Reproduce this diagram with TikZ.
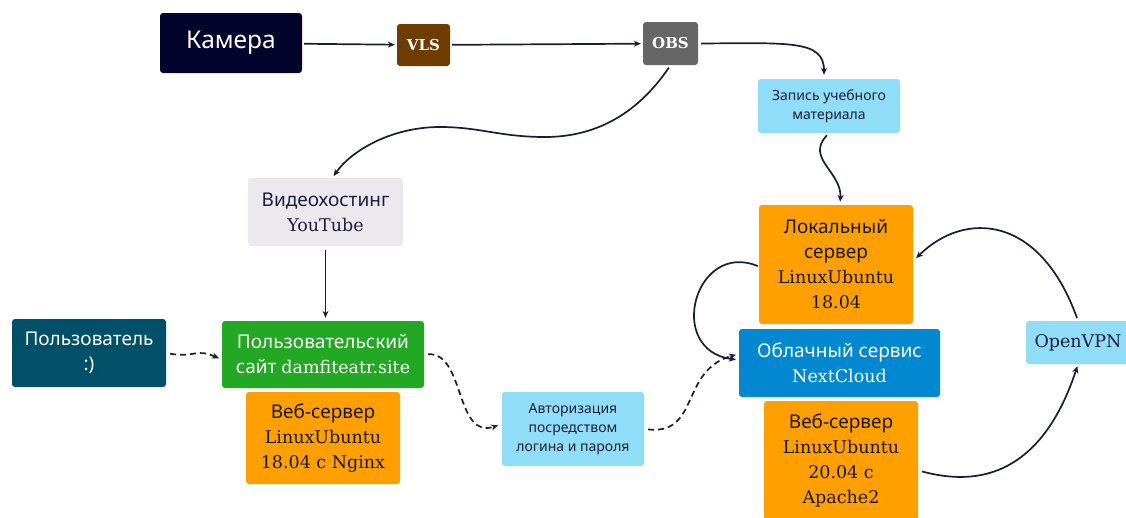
\documentclass[tikz,border=0pt]{standalone}
\usepackage{fontspec}
\setmainfont{Noto Sans}
\newfontfamily\se{DejaVu Serif}
\usetikzlibrary{arrows.meta}
\definecolor{cnavy}{HTML}{03032B}
\definecolor{cbrown}{HTML}{6F3C00}
\definecolor{cgray}{HTML}{666666}
\definecolor{clblue}{HTML}{8FDDF7}
\definecolor{clgray}{HTML}{EBE9EE}
\definecolor{corange}{HTML}{FFA000}
\definecolor{cblue}{HTML}{0288D1}
\definecolor{cteal}{HTML}{01506A}
\definecolor{cgreen}{HTML}{22A822}
\definecolor{cline}{HTML}{1B1B3A}
\definecolor{ctext}{HTML}{1E1E3C}
\tikzset{
  box/.style={rounded corners=3pt, inner sep=0pt, align=center},
  big/.style={font=\fontsize{19}{25}\selectfont},
  small/.style={font=\fontsize{14}{19}\selectfont},
  arr/.style={draw=cline, line width=1.7pt, -{Stealth[length=7pt,width=6pt]}},
  darr/.style={arr, dash pattern=on 6pt off 4pt},
}
\begin{document}
\begin{tikzpicture}[x=1pt,y=-1pt]
\useasboundingbox (0,0) rectangle (1126,517);
\fill[white] (0,0) rectangle (1126,517);
% nodes
\node[box, fill=cnavy, text=white, minimum width=142pt, minimum height=60pt, font=\fontsize{24.5}{28}\selectfont] (cam) at (231,43) {Камера};
\node[box, fill=cbrown, text=white, minimum width=53pt, minimum height=42pt, font=\fontsize{15}{18}\selectfont\se\bfseries] (vls) at (423.5,45) {VLS};
\node[box, fill=cgray, text=white, minimum width=55pt, minimum height=43pt, font=\fontsize{15}{18}\selectfont\se\bfseries] (obs) at (670.5,43.5) {OBS};
\node[box, small, fill=clblue, text=ctext, minimum width=142pt, minimum height=54pt] (zap) at (829,106) {Запись учебного\\материала};
\node[box, big, fill=clgray, text=ctext, minimum width=155pt, minimum height=68pt] (yt) at (325.5,212) {Видеохостинг\\{\se\fontsize{17.5}{25}\selectfont YouTube}};
\node[box, big, fill=corange, text=black!90, minimum width=154pt, minimum height=119pt] (loc) at (836,264.5) {Локальный\\сервер\\{\se\fontsize{17.5}{25}\selectfont LinuxUbuntu}\\{\se\fontsize{17.5}{25}\selectfont 18.04}};
\node[box, big, fill=cblue, text=white, minimum width=201pt, minimum height=68pt] (cloud) at (839.5,363) {Облачный сервис\\{\se\fontsize{17.5}{25}\selectfont NextCloud}};
\node[box, big, fill=corange, text=black!90, minimum width=154pt, minimum height=119pt] (web2) at (841,460.5) {Веб-сервер\\{\se\fontsize{17.5}{25}\selectfont LinuxUbuntu}\\{\se\fontsize{17.5}{25}\selectfont 20.04 с}\\{\se\fontsize{17.5}{25}\selectfont Apache2}};
\node[box, fill=clblue, text=ctext, minimum width=104pt, minimum height=43pt, font=\se\fontsize{17.5}{22}\selectfont] (vpn) at (1078,342.5) {OpenVPN};
\node[box, big, fill=cteal, text=white, minimum width=154pt, minimum height=68pt] (user) at (89,353) {Пользователь\\:)};
\node[box, big, fill=cgreen, text=white, minimum width=202pt, minimum height=67pt] (site) at (323,354.5) {Пользовательский\\сайт {\se\fontsize{17.5}{25}\selectfont damfiteatr.site}};
\node[box, big, fill=corange, text=black!90, minimum width=154pt, minimum height=92pt] (web1) at (323,438) {Веб-сервер\\{\se\fontsize{17.5}{25}\selectfont LinuxUbuntu}\\{\se\fontsize{17.5}{25}\selectfont 18.04 с Nginx}};
\node[box, small, fill=clblue, text=ctext, minimum width=142pt, minimum height=74pt] (auth) at (573,429) {Авторизация\\посредством\\логина и пароля};
% connectors
\draw[arr, shorten <=2pt, shorten >=2pt] (cam) -- (vls);
\draw[arr, shorten <=2pt, shorten >=2pt] (vls) -- (obs);
\draw[arr, shorten <=3pt, shorten >=4pt] (obs.east) .. controls (790,43) and (824,40) .. ([xshift=-5pt]zap.north);
\draw[arr, shorten <=3pt, shorten >=2pt] (obs.south) .. controls (640,110) and (600,137) .. (545,137) .. controls (500,137) and (480,127) .. (440,127) .. controls (390,127) and (350,152) .. ([xshift=7pt]yt.north);
\draw[arr, shorten <=3pt, shorten >=3pt] (zap.south) .. controls (805,158) and (842,172) .. ([xshift=4pt]loc.north);
\draw[arr, shorten <=4pt, shorten >=3pt] (yt.south) -- (yt.south |- site.north);
\draw[darr, shorten <=4pt, shorten >=3pt] (user.east) .. controls (195,358) and (195,348) .. ([yshift=-5pt]site.west);
\draw[darr, shorten <=4pt, shorten >=4pt] (site.east) .. controls (465,352) and (455,440) .. ([yshift=5pt]auth.west);
\draw[darr, shorten <=4pt, shorten >=3pt] (auth.east) .. controls (700,435) and (680,370) .. ([yshift=9pt]cloud.west);
\draw[arr, shorten <=1pt, shorten >=3pt] ([yshift=-2pt]loc.west) .. controls (695,240) and (665,350) .. ([yshift=3pt]cloud.west);
\draw[arr, shorten <=4pt, shorten >=2pt] ([yshift=-10pt]web2.east) .. controls (955,480) and (1035,495) .. (vpn.south);
\draw[arr, shorten <=3pt, shorten >=4pt] (vpn.north) .. controls (1040,215) and (965,210) .. ([yshift=3.5pt]loc.east);
\end{tikzpicture}
\end{document}
